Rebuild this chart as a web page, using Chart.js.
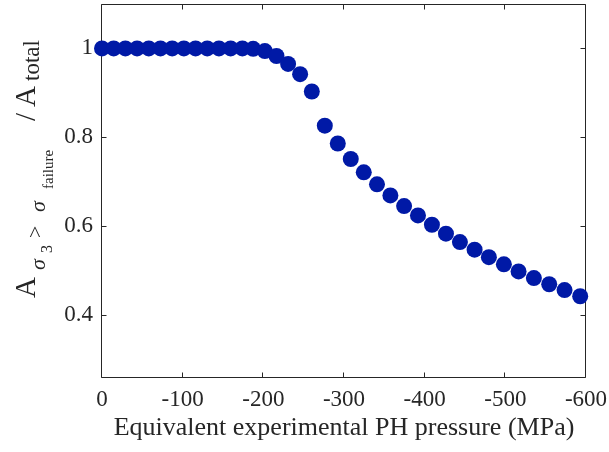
<!DOCTYPE html>
<html><head><meta charset="utf-8">
<script src="https://cdn.jsdelivr.net/npm/chart.js@4.4.0/dist/chart.umd.min.js"></script>
<style>html,body{margin:0;padding:0;background:#fff;}</style>
</head><body>
<canvas id="c" width="609" height="452"></canvas>
<script>
const pressureMPa = [0, -14.5, -29, -43.5, -58, -72.5, -87, -101.5, -116, -130.5, -145, -159.5, -174,
  -187.4, -201.9, -216.3, -230.7, -245.6, -260.1, -276.2, -292.3, -308.4, -324.5, -340.9, -357.5,
  -374.5, -391.7, -409, -426.4, -443.7, -461.9, -479.6, -498.2, -516.4, -535.4, -554.4, -573.4, -592.8];
const areaFraction = [1, 1, 1, 1, 1, 1, 1, 1, 1, 1, 1, 1, 1,
  0.999, 0.994, 0.983, 0.965, 0.942, 0.903, 0.826, 0.786, 0.751, 0.721, 0.694, 0.669,
  0.645, 0.624, 0.603, 0.583, 0.564, 0.547, 0.530, 0.514, 0.498, 0.483, 0.469, 0.456, 0.442];
const xTickValues = [0, -100, -200, -300, -400, -500, -600];
const yTickValues = [0.4, 0.6, 0.8, 1];
const xTitle = 'Equivalent experimental PH pressure (MPa)';

const AXIS = '#262626';
const SERIF = '"Liberation Serif", "Times New Roman", serif';

const boxPlugin = {
  id: 'box',
  beforeDatasetsDraw(chart) {
    const {ctx, chartArea: a, scales: {x, y}} = chart;
    ctx.save();
    ctx.strokeStyle = AXIS;
    ctx.lineWidth = 1;
    const L = Math.round(a.left) - 0.5, R = Math.round(a.right) - 0.5;
    const T = Math.round(a.top) + 0.5, B = Math.round(a.bottom) - 0.5;
    ctx.beginPath();
    ctx.rect(L, T, R - L, B - T);
    const tl = 5;
    xTickValues.forEach(v => {
      const px = Math.round(x.getPixelForValue(v)) - 0.5;
      ctx.moveTo(px, B); ctx.lineTo(px, B - tl);
      ctx.moveTo(px, T); ctx.lineTo(px, T + tl);
    });
    yTickValues.forEach(v => {
      const py = Math.round(y.getPixelForValue(v)) + 0.5;
      ctx.moveTo(L, py); ctx.lineTo(L + tl, py);
      ctx.moveTo(R, py); ctx.lineTo(R - tl, py);
    });
    ctx.stroke();
    ctx.restore();
  },
  afterDraw(chart) {
    const {ctx} = chart;
    ctx.save();
    ctx.fillStyle = AXIS;
    ctx.textBaseline = 'alphabetic';
    ctx.textAlign = 'left';
    const parts = [
      {t: 'A', f: '29px ' + SERIF, s: 298, b: 35},
      {t: 'σ', f: 'italic 22px ' + SERIF, s: 270, b: 45},
      {t: '3', f: '16px ' + SERIF, s: 253, b: 52},
      {t: '>', f: '22px ' + SERIF, s: 238, b: 42},
      {t: 'σ', f: 'italic 22px ' + SERIF, s: 212, b: 45},
      {t: 'failure', f: '15px ' + SERIF, s: 189, b: 53},
      {t: '/', f: '29px ' + SERIF, s: 121, b: 35},
      {t: 'A', f: '29px ' + SERIF, s: 107, b: 35},
      {t: 'total', f: '23px ' + SERIF, s: 81, b: 39}
    ];
    parts.forEach(p => {
      ctx.save();
      ctx.translate(p.b, p.s);
      ctx.rotate(-Math.PI / 2);
      ctx.font = p.f;
      ctx.fillText(p.t, 0, 0);
      ctx.restore();
    });
    ctx.restore();
  }
};

new Chart(document.getElementById('c'), {
  type: 'scatter',
  data: {
    datasets: [{
      data: pressureMPa.map((p, i) => ({x: p, y: areaFraction[i]})),
      backgroundColor: '#0019a6',
      borderColor: '#0019a6',
      borderWidth: 0,
      pointRadius: 8,
      pointHoverRadius: 8,
      clip: false
    }]
  },
  options: {
    responsive: false,
    animation: false,
    devicePixelRatio: 1,
    layout: {autoPadding: false, padding: {left: 0, top: 4, right: 23, bottom: 0}},
    plugins: {legend: {display: false}, tooltip: {enabled: false}},
    scales: {
      x: {
        type: 'linear', reverse: true, min: -600, max: 0,
        afterBuildTicks: s => { s.ticks = xTickValues.map(v => ({value: v})); },
        afterFit: s => { s.height = 74; s.paddingLeft = 0; s.paddingRight = 0; },
        grid: {display: false, drawTicks: false},
        border: {display: false},
        ticks: {
          color: AXIS, font: {family: SERIF, size: 23}, padding: 8, maxRotation: 0,
          callback: v => String(v)
        },
        title: {display: true, text: xTitle, color: AXIS, font: {family: SERIF, size: 26}, padding: {top: 0, bottom: 8}}
      },
      y: {
        type: 'linear', min: 0.258, max: 1.1,
        afterBuildTicks: s => { s.ticks = yTickValues.map(v => ({value: v})); },
        afterFit: s => { s.width = 102; s.paddingTop = 0; s.paddingBottom = 0; },
        grid: {display: false, drawTicks: false},
        border: {display: false},
        ticks: {
          color: AXIS, font: {family: SERIF, size: 23}, padding: 9,
          callback: v => String(v)
        }
      }
    }
  },
  plugins: [boxPlugin]
});
</script>
</body></html>
